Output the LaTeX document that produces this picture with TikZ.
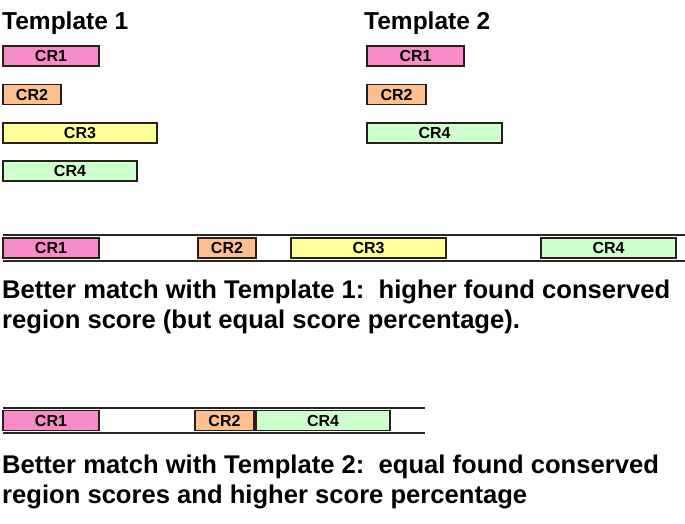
\documentclass[tikz,border=0pt]{standalone}
\usepackage{fontspec}
\setmainfont{Liberation Sans}
\definecolor{crpink}{RGB}{248,140,200}
\definecolor{crorange}{RGB}{252,192,144}
\definecolor{cryellow}{RGB}{255,255,153}
\definecolor{crgreen}{RGB}{204,255,204}
\definecolor{edge}{RGB}{40,30,30}
\tikzset{
  crbox/.style={draw=edge, line width=1.3pt, minimum height=20pt, inner sep=0pt,
     font=\fontsize{16}{17}\selectfont\bfseries},
  title/.style={anchor=base west, inner sep=0pt, font=\fontsize{24.5}{26}\selectfont\bfseries},
  caption/.style={anchor=base west, inner sep=0pt, font=\fontsize{25.6}{30}\selectfont\bfseries},
  track/.style={draw=black!85, line width=2pt}
}
\begin{document}
\begin{tikzpicture}[x=1pt, y=-1pt]
\useasboundingbox (0,0) rectangle (685,524);
% titles
\node[title] (ttl1) at (2,30) {Template 1};
\node[title] (ttl2) at (364,30) {Template 2};
% template 1
\node[crbox, fill=crpink,   minimum width=96pt]  (t1cr1) at (51,56)   {CR1};
\node[crbox, fill=crorange, minimum width=58pt]  (t1cr2) at (32,94.5) {CR2};
\node[crbox, fill=cryellow, minimum width=154pt] (t1cr3) at (80,133)  {CR3};
\node[crbox, fill=crgreen,  minimum width=134pt] (t1cr4) at (70,171)  {CR4};
% template 2
\node[crbox, fill=crpink,   minimum width=97pt]  (t2cr1) at (415.5,56)   {CR1};
\node[crbox, fill=crorange, minimum width=59pt]  (t2cr2) at (396.5,94.5) {CR2};
\node[crbox, fill=crgreen,  minimum width=135pt] (t2cr4) at (434.5,133)  {CR4};
% query 1
\coordinate (q1a) at (3,235);
\coordinate (q1b) at (685,235);
\coordinate (q1c) at (3,261);
\coordinate (q1d) at (685,261);
\draw[track] (q1a) -- (q1b);
\draw[track] (q1c) -- (q1d);
\node[crbox, fill=crpink,   minimum width=96pt]  (q1cr1) at (51,248)    {CR1};
\node[crbox, fill=crorange, minimum width=58pt]  (q1cr2) at (227,248)   {CR2};
\node[crbox, fill=cryellow, minimum width=155pt] (q1cr3) at (368.5,248) {CR3};
\node[crbox, fill=crgreen,  minimum width=135pt] (q1cr4) at (608.5,248) {CR4};
\node[caption] (cap1a) at (2,298) {Better match with Template 1:\ \ higher found conserved};
\node[caption] (cap1b) at (2,328) {region score (but equal score percentage).};
% query 2
\coordinate (q2a) at (3,407.5);
\coordinate (q2b) at (425,407.5);
\coordinate (q2c) at (3,433);
\coordinate (q2d) at (425,433);
\draw[track] (q2a) -- (q2b);
\draw[track] (q2c) -- (q2d);
\node[crbox, fill=crpink,   minimum width=96pt]  (q2cr1) at (51,420.5)  {CR1};
\node[crbox, fill=crorange, minimum width=59pt]  (q2cr2) at (224.5,420.5) {CR2};
\node[crbox, fill=crgreen,  minimum width=134pt] (q2cr4) at (323,420.5) {CR4};
\node[caption] (cap2a) at (2,473) {Better match with Template 2:\ \ equal found conserved};
\node[caption] (cap2b) at (2,503) {region scores and higher score percentage};
\end{tikzpicture}
\end{document}
